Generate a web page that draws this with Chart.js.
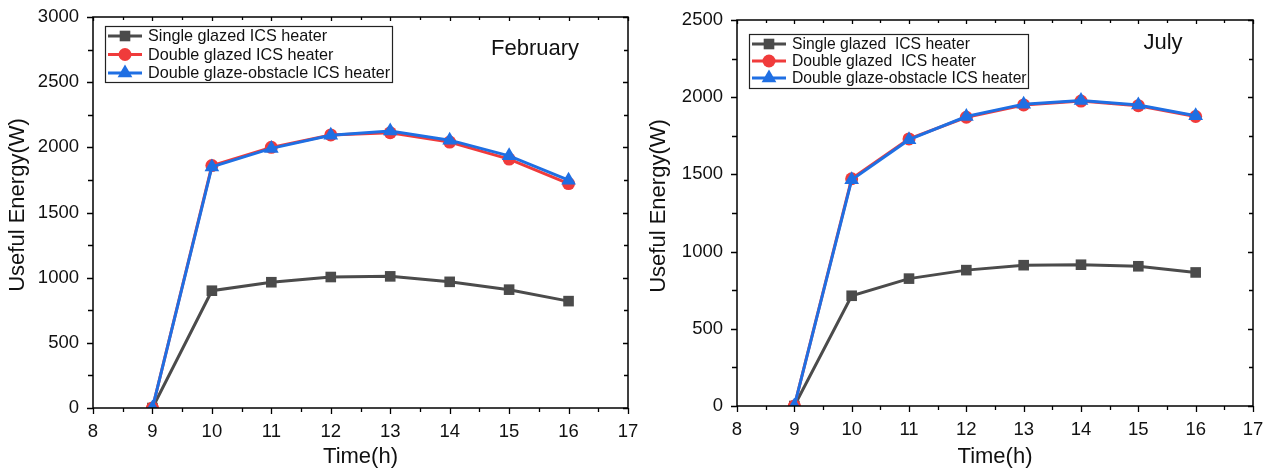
<!DOCTYPE html>
<html>
<head>
<meta charset="utf-8">
<script src="https://cdn.jsdelivr.net/npm/chart.js@4"></script>
<style>
html,body{margin:0;padding:0;background:#fff;}
#wrap{position:relative;width:1268px;height:468px;}
.box{position:absolute;top:0;height:468px;}
#b1{left:0;width:640px;}
#b2{left:640px;width:628px;}
</style>
</head>
<body>
<div id="wrap">
<div class="box" id="b1"><canvas id="c1"></canvas></div>
<div class="box" id="b2"><canvas id="c2"></canvas></div>
</div>
<script>
// ---- data ----
const hours = [9, 10, 11, 12, 13, 14, 15, 16];
const xTicks = [8, 9, 10, 11, 12, 13, 14, 15, 16, 17];

const febSingle   = [0, 900, 965, 1005, 1010, 968, 908, 820];
const febDouble   = [0, 1860, 2000, 2095, 2112, 2040, 1910, 1722];
const febObstacle = [0, 1850, 1992, 2092, 2125, 2055, 1935, 1748];
const febYTicks = [0, 500, 1000, 1500, 2000, 2500, 3000];

const julSingle   = [0, 714, 825, 880, 912, 915, 905, 865];
const julDouble   = [0, 1472, 1730, 1870, 1950, 1975, 1945, 1875];
const julObstacle = [0, 1465, 1725, 1875, 1955, 1978, 1950, 1880];
const julYTicks = [0, 500, 1000, 1500, 2000, 2500];

const febLabels = ["Single glazed ICS heater", "Double glazed ICS heater", "Double glaze-obstacle ICS heater"];
const julLabels = ["Single glazed  ICS heater", "Double glazed  ICS heater", "Double glaze-obstacle ICS heater"];

const FONT = "'Liberation Sans', Arial, sans-serif";
const COLORS = ['#4b4b4b', '#f03b3b', '#1f6fe3'];
const STYLES = ['rect', 'circle', 'triangle'];
const RADII = [7.5, 6.5, 8.5];

function toXY(xs, ys){ return xs.map((x,i)=>({x:x, y:ys[i]})); }

function makeChart(id, opt){
  const datasets = opt.series.map((s,i)=>({
    label: opt.labels[i],
    data: toXY(hours, s),
    borderColor: COLORS[i],
    backgroundColor: COLORS[i],
    pointBackgroundColor: COLORS[i],
    pointBorderColor: COLORS[i],
    pointBorderWidth: 0,
    pointStyle: STYLES[i],
    pointRadius: RADII[i],
    borderWidth: 3,
    order: 2 - i,
    tension: 0
  }));

  const deco = {
    id: 'deco',
    afterDatasetsDraw(chart){
      const ctx = chart.ctx;
      const a = chart.chartArea;
      const xs = chart.scales.x, ys = chart.scales.y;
      ctx.save();
      ctx.strokeStyle = '#000';
      ctx.lineWidth = 1.5;
      ctx.strokeRect(a.left, a.top, a.right - a.left, a.bottom - a.top);
      ctx.lineWidth = 1.3;
      ctx.beginPath();
      for (let v = xTicks[0]; v <= xTicks[xTicks.length-1] + 1e-9; v += 0.5){
        const px = Math.round(xs.getPixelForValue(v)) + 0.5;
        const major = Math.abs(v - Math.round(v)) < 1e-6;
        ctx.moveTo(px, a.bottom); ctx.lineTo(px, a.bottom + (major ? 6 : 4));
        ctx.moveTo(px, a.top); ctx.lineTo(px, a.top + (major ? 4 : 3));
      }
      const yMax = opt.yTicks[opt.yTicks.length-1];
      for (let v = 0; v <= yMax + 1e-9; v += 250){
        const py = Math.round(ys.getPixelForValue(v)) + 0.5;
        const major = v % 500 === 0;
        ctx.moveTo(a.left, py); ctx.lineTo(a.left - (major ? 6 : 5), py);
        ctx.moveTo(a.right, py); ctx.lineTo(a.right - (major ? 5 : 4), py);
      }
      ctx.stroke();

      // legend box
      const L = opt.legend;
      ctx.lineWidth = 1.2;
      ctx.strokeStyle = '#222';
      ctx.fillStyle = '#fff';
      ctx.fillRect(L.x, L.y, L.w, L.h);
      ctx.strokeRect(L.x + 0.5, L.y + 0.5, L.w, L.h);
      ctx.font = L.font + 'px ' + FONT;
      ctx.textBaseline = 'middle';
      ctx.textAlign = 'left';
      datasets.forEach((d, i) => {
        const cy = L.y + L.rowTop + i * L.rowH;
        ctx.strokeStyle = d.borderColor;
        ctx.lineWidth = 3;
        ctx.beginPath();
        ctx.moveTo(L.x + 3, cy); ctx.lineTo(L.x + 37, cy);
        ctx.stroke();
        ctx.fillStyle = d.backgroundColor;
        Chart.helpers.drawPoint(ctx, {pointStyle: d.pointStyle, radius: d.pointRadius, rotation: 0, borderWidth: 0}, L.x + 20, cy);
        ctx.fillStyle = '#111';
        ctx.fillText(d.label, L.x + 43, cy + 1);
      });

      // month label
      ctx.fillStyle = '#111';
      ctx.font = '22px ' + FONT;
      ctx.textAlign = 'center';
      ctx.fillText(opt.month, opt.monthX, opt.monthY);

      // y axis title
      ctx.save();
      ctx.translate(opt.yTitleX, opt.yTitleY);
      ctx.rotate(-Math.PI / 2);
      ctx.fillText('Useful Energy(W)', 0, 0);
      ctx.restore();
      ctx.restore();
    }
  };

  return new Chart(document.getElementById(id), {
    type: 'line',
    data: { datasets: datasets },
    options: {
      responsive: true,
      maintainAspectRatio: false,
      animation: false,
      events: [],
      layout: { padding: { left: 0, right: opt.padRight, top: opt.padTop, bottom: 0 } },
      plugins: { legend: { display: false }, tooltip: { enabled: false } },
      scales: {
        x: {
          type: 'linear',
          min: xTicks[0], max: xTicks[xTicks.length-1],
          afterBuildTicks: s => { s.ticks = xTicks.map(v => ({value: v})); },
          afterFit: s => { s.height = opt.xAxisH; s.paddingLeft = 0; s.paddingRight = 0; },
          grid: { display: false, drawTicks: false },
          border: { display: false },
          ticks: { color: '#111', font: { family: FONT, size: 18.5 }, padding: 13, maxRotation: 0, callback: v => String(v) },
          title: { display: true, text: 'Time(h)', color: '#111', font: { family: FONT, size: 22, lineHeight: 1.05 }, padding: { top: 0, bottom: 0 } }
        },
        y: {
          type: 'linear',
          min: 0, max: opt.yTicks[opt.yTicks.length-1],
          afterBuildTicks: s => { s.ticks = opt.yTicks.map(v => ({value: v})); },
          afterFit: s => { s.width = opt.yAxisW; s.paddingTop = 0; s.paddingBottom = 0; },
          grid: { display: false, drawTicks: false },
          border: { display: false },
          ticks: { color: '#111', font: { family: FONT, size: 18.5 }, padding: 14, callback: v => String(v) },
          title: { display: false }
        }
      }
    },
    plugins: [deco]
  });
}

makeChart('c1', {
  series: [febSingle, febDouble, febObstacle],
  labels: febLabels,
  yTicks: febYTicks,
  padRight: 12, padTop: 17, xAxisH: 60, yAxisW: 93,
  legend: { x: 105, y: 26, w: 287, h: 56, rowTop: 10, rowH: 18.5, font: 16.2 },
  month: 'February', monthX: 535, monthY: 49,
  yTitleX: 18, yTitleY: 205
});

makeChart('c2', {
  series: [julSingle, julDouble, julObstacle],
  labels: julLabels,
  yTicks: julYTicks,
  padRight: 15, padTop: 20, xAxisH: 62, yAxisW: 97,
  legend: { x: 109, y: 34, w: 279, h: 54, rowTop: 10, rowH: 17, font: 15.7 },
  month: 'July', monthX: 523, monthY: 43,
  yTitleX: 19, yTitleY: 206
});
</script>
</body>
</html>
